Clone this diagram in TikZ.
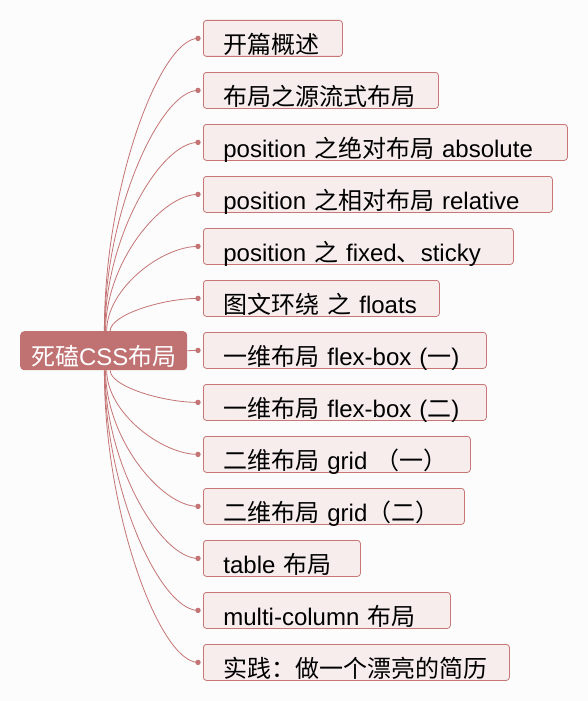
\documentclass[tikz,border=0pt]{standalone}
\usepackage{fontspec}
\setmainfont{Liberation Sans}
\newfontfamily\cjkfont{Noto Sans CJK SC}
\newcommand\zh[1]{{\cjkfont #1}}
\usetikzlibrary{calc,positioning}
\definecolor{rootfill}{RGB}{192,114,114}
\definecolor{kidfill}{RGB}{247,237,237}
\definecolor{kidline}{RGB}{200,118,118}
\definecolor{linkc}{RGB}{196,116,116}
\definecolor{bgc}{RGB}{252,252,252}
\tikzset{
  kid/.style={anchor=north west, draw=kidline, fill=kidfill, rounded corners=3pt,
    line width=0.8pt, inner xsep=20pt, inner ysep=0pt, text width=#1, align=left,
    text height=33pt, text depth=3pt, font=\fontsize{24}{28}\selectfont},
  link/.style={draw=linkc, line width=0.8pt},
}
\begin{document}
\begin{tikzpicture}[x=1pt,y=-1pt]
\path[use as bounding box, fill=bgc] (0,0) rectangle (588,701);
% root
\node[anchor=north west, fill=rootfill, rounded corners=4pt, minimum width=167pt,
  minimum height=39pt, inner sep=0pt, text height=34pt, text depth=5pt, text=white,
  font=\fontsize{24}{28}\selectfont] (root) at (20,331) {\zh{死磕}CSS\zh{布局}};
% branches
\node[kid=99pt]  (c1)  at (203,20)  {\zh{开篇概述}};
\node[kid=195pt] (c2)  at (203,72)  {\zh{布局之源流式布局}};
\node[kid=324pt] (c3)  at (203,124) {position \zh{之绝对布局} absolute};
\node[kid=309pt] (c4)  at (203,176) {position \zh{之相对布局} relative};
\node[kid=270pt] (c5)  at (203,228) {position \zh{之} fixed\zh{、}sticky};
\node[kid=196pt] (c6)  at (203,280) {\zh{图文环绕} \zh{之} floats};
\node[kid=243pt] (c7)  at (203,332) {\zh{一维布局} flex-box (\zh{一})};
\node[kid=243pt] (c8)  at (203,384) {\zh{一维布局} flex-box (\zh{二})};
\node[kid=227pt] (c9)  at (203,436) {\zh{二维布局} grid \zh{（一）}};
\node[kid=221pt] (c10) at (203,488) {\zh{二维布局} grid\zh{（二）}};
\node[kid=117pt] (c11) at (203,540) {table \zh{布局}};
\node[kid=207pt] (c12) at (203,592) {multi-column \zh{布局}};
\node[kid=266pt] (c13) at (203,644) {\zh{实践：做一个漂亮的简历}};
% connectors
\foreach \i in {1,...,13} \coordinate (d\i) at ($(c\i.west)+(-5,0)$);
\foreach \i in {1,...,6} {
  \pgfmathsetmacro\dx{7/(7-\i)-0.5}
  \coordinate (s) at ($(root.north)+(\dx,0)$);
  \draw[link] (s) .. controls ($(s)!0.5!(s|-d\i)$) and ($(d\i)!0.4!(d\i-|s)$) .. (d\i);
}
\foreach \i in {8,...,13} {
  \pgfmathsetmacro\dx{7/(\i-7)-0.5}
  \coordinate (s) at ($(root.south)+(\dx,0)$);
  \draw[link] (s) .. controls ($(s)!0.5!(s|-d\i)$) and ($(d\i)!0.4!(d\i-|s)$) .. (d\i);
}
\draw[link] (root.east) -- (d7);
\foreach \i in {1,...,13} \fill[linkc] (d\i) circle (2.7);
\end{tikzpicture}
\end{document}
